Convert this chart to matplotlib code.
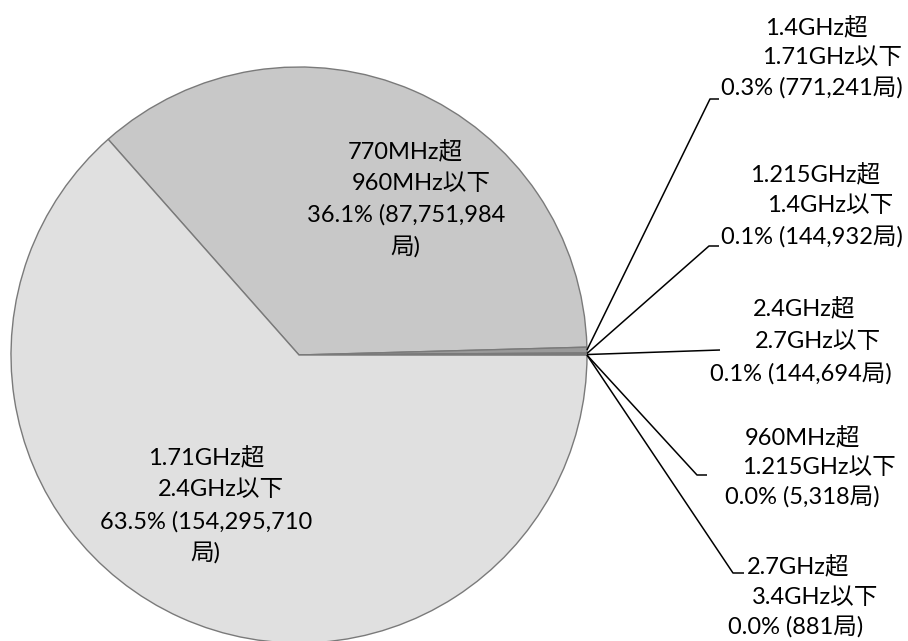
import matplotlib
matplotlib.use("Agg")
import matplotlib.pyplot as plt
import numpy as np

# slices, clockwise from the upper-left boundary
lower = ["770MHz", "1.4GHz", "1.215GHz", "2.4GHz", "960MHz", "2.7GHz", "1.71GHz"]
upper = ["960MHz", "1.71GHz", "1.4GHz", "2.7GHz", "1.215GHz", "3.4GHz", "2.4GHz"]
stations = [87751984, 771241, 144932, 144694, 5318, 881, 154295710]
colors = ["#c8c8c8", "#9a9a9a", "#b4b4b4", "#a6a6a6", "#c0c0c0", "#d4d4d4", "#e0e0e0"]

FONT = ["Lato", "Noto Sans CJK JP", "DejaVu Sans"]
FS = 17
CX, CY, R = 299, 355, 288   # pie centre / radius in pixels
W, H = 908, 641


def px(x, y):
    return (x - CX) / R, (CY - y) / R


total = sum(stations)
pct = [100 * s / total for s in stations]

fig = plt.figure(figsize=(W / 100, H / 100), dpi=100)
ax = fig.add_axes([0, 0, 1, 1])
wedges, _ = ax.pie(stations, colors=colors, startangle=131.5, counterclock=False,
                   radius=1, center=(0, 0),
                   wedgeprops=dict(edgecolor="#7a7a7a", linewidth=1.0))
ax.set_xlim(px(0, 0)[0], px(W, 0)[0])
ax.set_ylim(px(0, H)[1], px(0, 0)[1])
ax.set_aspect("auto")
ax.axis("off")

# inside labels: (line left x, line y) in pixels
inside = {
    0: [(348, 152), (352, 183), (307, 215), (390, 247)],
    6: [(148, 458), (158, 490), (100, 522), (190, 553)],
}
for i, pos in inside.items():
    lines = [f"{lower[i]}超", f"{upper[i]}以下",
             f"{pct[i]:.1f}% ({stations[i]:,}", "局)"]
    for t, (x, y) in zip(lines, pos):
        ax.text(*px(x, y), t, ha="left", va="center", fontsize=FS, family=FONT)

# outside labels with leader lines
outside = {
    1: dict(lines=[(765, 28), (762, 57), (721, 88)], knee=(710, 99), end=(719, 99)),
    2: dict(lines=[(750, 175), (767, 205), (721, 237)], knee=(709, 246), end=(719, 246)),
    3: dict(lines=[(753, 309), (755, 341), (710, 374)], knee=(720, 350), end=None),
    4: dict(lines=[(745, 438), (742, 467), (725, 497)], knee=(697, 475), end=(707, 475)),
    5: dict(lines=[(747, 567), (752, 597), (728, 627)], knee=(733, 573), end=(744, 573)),
}
for i, d in outside.items():
    w = wedges[i]
    mid = np.deg2rad((w.theta1 + w.theta2) / 2)
    xs = [np.cos(mid), px(*d["knee"])[0]]
    ys = [np.sin(mid), px(*d["knee"])[1]]
    if d["end"] is not None:
        xs.append(px(*d["end"])[0])
        ys.append(px(*d["end"])[1])
    ax.plot(xs, ys, color="black", lw=1.1, solid_capstyle="butt")
    lines = [f"{lower[i]}超", f"{upper[i]}以下",
             f"{pct[i]:.1f}% ({stations[i]:,}局)"]
    for t, (x, y) in zip(lines, d["lines"]):
        ax.text(*px(x, y), t, ha="left", va="center", fontsize=FS, family=FONT)

fig.savefig("out.png", dpi=100)
